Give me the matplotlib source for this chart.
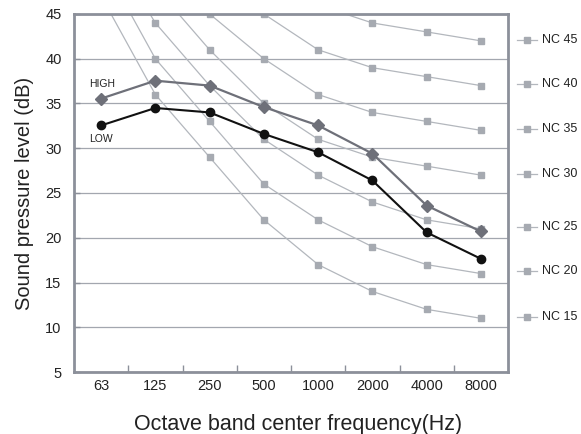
import matplotlib
matplotlib.use("Agg")
import matplotlib.pyplot as plt
from matplotlib.lines import Line2D

plt.rcParams['font.family'] = ['Liberation Sans', 'DejaVu Sans']

freqs = ["63", "125", "250", "500", "1000", "2000", "4000", "8000"]
nc_names = ["NC 45", "NC 40", "NC 35", "NC 30", "NC 25", "NC 20", "NC 15"]
nc45 = [67, 60, 54, 49, 46, 44, 43, 42]
nc40 = [64, 56, 50, 45, 41, 39, 38, 37]
nc35 = [60, 52, 45, 40, 36, 34, 33, 32]
nc30 = [57, 48, 41, 35, 31, 29, 28, 27]
nc25 = [54, 44, 37, 31, 27, 24, 22, 21]
nc20 = [51, 40, 33, 26, 22, 19, 17, 16]
nc15 = [47, 36, 29, 22, 17, 14, 12, 11]
nc_curves = [nc45, nc40, nc35, nc30, nc25, nc20, nc15]
high = [35.55, 37.55, 37.0, 34.6, 32.55, 29.4, 23.6, 20.7]
low = [32.55, 34.5, 34.0, 31.6, 29.55, 26.4, 20.6, 17.65]
yticks = [5, 10, 15, 20, 25, 30, 35, 40, 45]

W, H = 581, 434
fig = plt.figure(figsize=(W / 100, H / 100), dpi=100)
ax = fig.add_axes([74 / W, 62 / H, 434 / W, 358 / H])

x = list(range(len(freqs)))
nc_line_col = "#b3b7bd"
nc_mark_col = "#a6aab1"
for vals in nc_curves:
    ax.plot(x, vals, color=nc_line_col, lw=0.9, marker="s", ms=4.5,
            mfc=nc_mark_col, mec=nc_mark_col, zorder=2)

ax.plot(x, high, color="#6e7079", lw=1.6, marker="D", ms=6,
        mfc="#6e7079", mec="#6e7079", zorder=3)
ax.plot(x, low, color="#111111", lw=1.5, marker="o", ms=6,
        mfc="#111111", mec="#111111", zorder=4)

ax.text(-0.22, 37.2, "HIGH", fontsize=7.5, color="#222222", va="center", ha="left")
ax.text(-0.22, 31.0, "LOW", fontsize=7.5, color="#222222", va="center", ha="left")

ax.set_xlim(-0.5, len(freqs) - 0.5)
ax.set_ylim(5, 45)
ax.set_yticks(yticks)
ax.set_yticklabels([str(v) for v in yticks], fontsize=10.5, color="#222222")
ax.set_xticks(x)
ax.set_xticklabels(freqs, fontsize=10.5, color="#222222")
ax.tick_params(axis="x", length=0, pad=5)
ax.set_xticks([i + 0.5 for i in x[:-1]], minor=True)
ax.tick_params(axis="x", which="minor", direction="in", length=5, width=1, color="#8c909a")
ax.tick_params(axis="y", direction="in", length=4, width=1, color="#8c909a", pad=9)
ax.grid(axis="y", color="#a3a7af", lw=0.9)
ax.set_axisbelow(True)
for s in ax.spines.values():
    s.set_color("#8c909a")
    s.set_linewidth(2.0)

ax.set_ylabel("Sound pressure level (dB)", fontsize=14.5, color="#222222", labelpad=8)
ax.set_xlabel("Octave band center frequency(Hz)", fontsize=15.5, color="#222222")
ax.xaxis.set_label_coords(0.516, -0.118)

leg_y = [40, 84, 129, 174, 227, 271, 317]
for name, py in zip(nc_names, leg_y):
    fy = 1 - py / H
    fig.add_artist(Line2D([517 / W, 537 / W], [fy, fy], color=nc_line_col, lw=0.9,
                          transform=fig.transFigure))
    fig.add_artist(Line2D([527 / W], [fy], marker="s", ms=4.5, color=nc_mark_col,
                          transform=fig.transFigure, lw=0))
    fig.text(542 / W, fy, name, fontsize=9, va="center", ha="left", color="#222222")

fig.savefig("out.png", dpi=100)
